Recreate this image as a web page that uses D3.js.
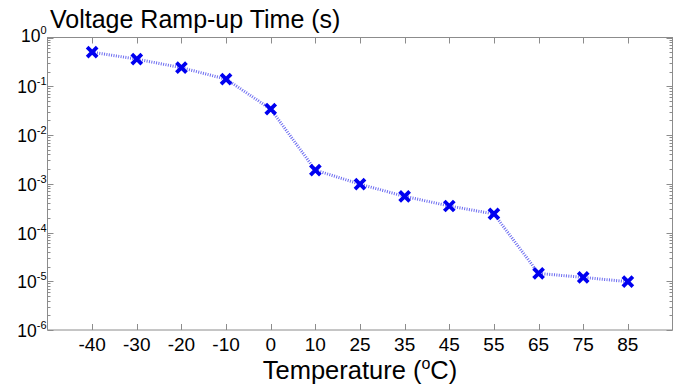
<!DOCTYPE html>
<html>
<head>
<meta charset="utf-8">
<script src="https://cdn.jsdelivr.net/npm/d3@7"></script>
<style>
  body { margin: 0; background: #fff; }
  svg { font-family: "Liberation Sans", Arial, sans-serif; }
</style>
</head>
<body>
<div id="chart"></div>
<script>
// temperatures (categorical x axis) and ramp-up times in seconds
var temps = ["-40", "-30", "-20", "-10", "0", "10", "25", "35", "45", "55", "65", "75", "85"];
var rampTimes = [0.5, 0.36, 0.24, 0.14, 0.034, 0.0019, 0.00098, 0.00055, 0.00035, 0.00024, 1.45e-5, 1.2e-5, 9.8e-6];
var yExponents = [0, -1, -2, -3, -4, -5, -6];

var width = 683, height = 385;
var margin = { top: 37.5, right: 10.5, bottom: 55, left: 47.5 };
var axisColor = "#8c8c8c";

var svg = d3.select("#chart").append("svg")
  .attr("width", width)
  .attr("height", height);

var xscale = d3.scalePoint()
  .domain(temps)
  .range([margin.left, width - margin.right])
  .padding(1);

var yscale = d3.scaleLog()
  .domain([1e-6, 1])
  .range([height - margin.bottom, margin.top]);

var x0 = margin.left, x1 = width - margin.right;
var y0 = height - margin.bottom, y1 = margin.top;

// minor ticks (2..9 for each decade) on left and right sides, inside
var minors = [];
yExponents.slice(1).forEach(function (e) {
  for (var k = 2; k <= 9; k++) minors.push(k * Math.pow(10, e));
});

var g = svg.append("g");

g.selectAll(".minorL").data(minors).enter().append("line")
  .attr("x1", x0).attr("x2", x0 + 3)
  .attr("y1", function (d) { return Math.round(yscale(d)) + 0.5; })
  .attr("y2", function (d) { return Math.round(yscale(d)) + 0.5; })
  .attr("stroke", axisColor);
g.selectAll(".minorR").data(minors).enter().append("line")
  .attr("x1", x1).attr("x2", x1 - 3)
  .attr("y1", function (d) { return Math.round(yscale(d)) + 0.5; })
  .attr("y2", function (d) { return Math.round(yscale(d)) + 0.5; })
  .attr("stroke", axisColor);

// major y ticks
var majors = yExponents.map(function (e) { return Math.pow(10, e); });
g.selectAll(".majorL").data(majors).enter().append("line")
  .attr("x1", x0).attr("x2", x0 + 6)
  .attr("y1", function (d) { return Math.round(yscale(d)) + 0.5; })
  .attr("y2", function (d) { return Math.round(yscale(d)) + 0.5; })
  .attr("stroke", axisColor);
g.selectAll(".majorR").data(majors).enter().append("line")
  .attr("x1", x1).attr("x2", x1 - 6)
  .attr("y1", function (d) { return Math.round(yscale(d)) + 0.5; })
  .attr("y2", function (d) { return Math.round(yscale(d)) + 0.5; })
  .attr("stroke", axisColor);

// x ticks bottom and top
g.selectAll(".xtb").data(temps).enter().append("line")
  .attr("x1", function (d) { return Math.round(xscale(d)) + 0.5; })
  .attr("x2", function (d) { return Math.round(xscale(d)) + 0.5; })
  .attr("y1", y0).attr("y2", y0 - 6)
  .attr("stroke", axisColor);
g.selectAll(".xtt").data(temps).enter().append("line")
  .attr("x1", function (d) { return Math.round(xscale(d)) + 0.5; })
  .attr("x2", function (d) { return Math.round(xscale(d)) + 0.5; })
  .attr("y1", y1).attr("y2", y1 + 6)
  .attr("stroke", axisColor);

// frame
g.append("rect")
  .attr("x", x0).attr("y", y1)
  .attr("width", x1 - x0).attr("height", y0 - y1)
  .attr("fill", "none")
  .attr("stroke", axisColor);

// x tick labels
g.selectAll(".xlab").data(temps).enter().append("text")
  .attr("x", function (d) { return xscale(d); })
  .attr("y", y0 + 21)
  .attr("text-anchor", "middle")
  .style("font-size", "19px")
  .text(function (d) { return d; });

// y tick labels 10^e
var ylab = g.selectAll(".ylab").data(yExponents).enter().append("text")
  .attr("x", x0 - 1)
  .attr("y", function (e) { return yscale(Math.pow(10, e)) + (e === 0 ? 4 : 7); })
  .attr("text-anchor", "end")
  .style("font-size", "17.5px");
ylab.append("tspan").text("10");
ylab.append("tspan")
  .attr("dy", -8)
  .style("font-size", "11px")
  .text(function (e) { return e; });

// line
var line = d3.line()
  .x(function (d, i) { return xscale(temps[i]); })
  .y(function (d) { return yscale(d); });

svg.append("path")
  .datum(rampTimes)
  .attr("d", line)
  .attr("fill", "none")
  .attr("stroke", "#6b6bf0")
  .attr("stroke-width", 3)
  .attr("stroke-dasharray", "1,1.4");

// X markers
var s = 5;
svg.selectAll(".mark").data(rampTimes).enter().append("path")
  .attr("transform", function (d, i) { return "translate(" + xscale(temps[i]) + "," + yscale(d) + ")"; })
  .attr("d", "M" + (-s) + "," + (-s) + "L" + s + "," + s + "M" + (-s) + "," + s + "L" + s + "," + (-s))
  .attr("stroke", "#0000f0")
  .attr("stroke-width", 3.8)
  .attr("fill", "none");

// title
svg.append("text")
  .attr("x", 50)
  .attr("y", 28)
  .style("font-size", "25px")
  .text("Voltage Ramp-up Time (s)");

// x label
var xl = svg.append("text")
  .attr("x", (x0 + x1) / 2)
  .attr("y", 379)
  .attr("text-anchor", "middle")
  .style("font-size", "25.5px");
xl.append("tspan").text("Temperature (");
xl.append("tspan").attr("dy", -10).style("font-size", "16px").text("o");
xl.append("tspan").attr("dy", 10).text("C)");
</script>
</body>
</html>
